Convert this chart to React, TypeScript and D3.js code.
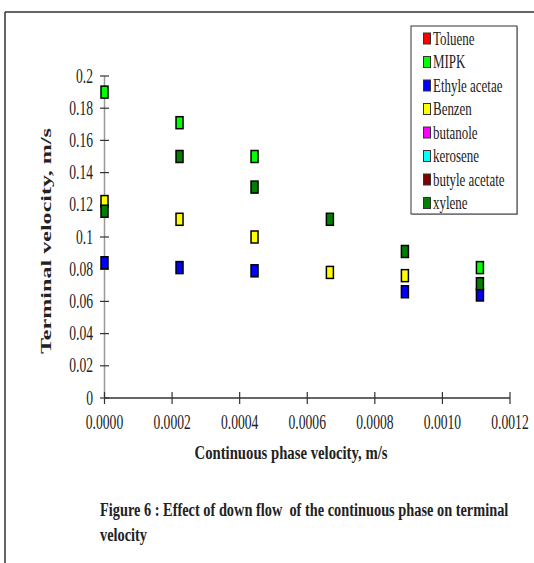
import React, { useLayoutEffect, useRef, useState } from 'react';
import * as d3 from 'd3';

const xValues = [0, 0.000222, 0.000444, 0.000667, 0.000889, 0.001111];

const seriesNames = ['Toluene', 'MIPK', 'Ethyle acetae', 'Benzen', 'butanole', 'kerosene', 'butyle acetate', 'xylene'];
const seriesColors = ['#ff0000', '#00ff00', '#0000ff', '#ffff00', '#ff00ff', '#00ffff', '#800000', '#008000'];

const toluene: (number | null)[] = [];
const mipk = [0.19, 0.171, 0.15, null, null, 0.081];
const ethyleAcetae = [0.084, 0.081, 0.079, null, 0.066, 0.064];
const benzen = [0.122, 0.111, 0.1, 0.078, 0.076, null];
const butanole: (number | null)[] = [];
const kerosene: (number | null)[] = [];
const butyleAcetate: (number | null)[] = [];
const xylene = [0.116, 0.15, 0.131, 0.111, 0.091, 0.071];

const seriesValues = [toluene, mipk, ethyleAcetae, benzen, butanole, kerosene, butyleAcetate, xylene];

const yTicks = [0, 0.02, 0.04, 0.06, 0.08, 0.1, 0.12, 0.14, 0.16, 0.18, 0.2];
const xTicks = [0, 0.0002, 0.0004, 0.0006, 0.0008, 0.001, 0.0012];

const captionLines = ['Figure 6 : Effect of down flow  of the continuous phase on terminal', 'velocity'];

const W = 534;
const H = 563;
const SX = 0.72; // the original text looks squeezed sideways
const serif = '"Liberation Serif", "Times New Roman", serif';

const x = d3.scaleLinear().domain([0, 0.0012]).range([104.5, 510]);
const y = d3.scaleLinear().domain([0, 0.2]).range([398, 76]);

const fmtY = (v: number) => String(+v.toFixed(2));
const fmtX = d3.format('.4f');

// squeezed text helper
const Sq = ({ x, y, children, anchor = 'start', size = 19, weight = 'normal', sx = SX }: any) => (
  <text
    transform={`translate(${x},${y}) scale(${sx},1)`}
    textAnchor={anchor}
    fontFamily={serif}
    fontSize={size}
    fontWeight={weight}
    fill="#222"
    style={{ whiteSpace: 'pre' }}
  >
    {children}
  </text>
);

export default function App() {
  const markW = 7;
  const markH = 12;
  const capRef = useRef<SVGTextElement>(null);
  const [capScale, setCapScale] = useState(0.7);

  useLayoutEffect(() => {
    // fit first caption line to the width seen in the picture
    if (capRef.current) {
      const len = capRef.current.getComputedTextLength();
      if (len > 0) setCapScale(408 / len);
    }
  }, []);

  return (
    <svg width={W} height={H} style={{ position: 'absolute', left: 0, top: 0, background: '#fff' }}>
      {/* outer frame */}
      <line x1={5} y1={12} x2={W} y2={12} stroke="#333" strokeWidth={1.5} />
      <line x1={5} y1={12} x2={5} y2={H} stroke="#333" strokeWidth={1.5} />

      {/* y axis */}
      <line x1={x(0)} y1={y(0.2)} x2={x(0)} y2={y(0)} stroke="#999" strokeWidth={1.5} />
      {yTicks.map((t) => (
        <g key={'yt' + t}>
          <line x1={x(0) - 4.5} x2={x(0) + 4.5} y1={y(t)} y2={y(t)} stroke="#333" strokeWidth={1.2} />
          <Sq x={93} y={y(t) + 6.5} anchor="end" size={20} sx={0.68}>{fmtY(t)}</Sq>
        </g>
      ))}

      {/* x axis */}
      <line x1={x(0)} y1={y(0)} x2={x(0.0012)} y2={y(0)} stroke="#333" strokeWidth={1.3} />
      {xTicks.map((t) => (
        <g key={'xt' + t}>
          <line x1={x(t)} x2={x(t)} y1={y(0) - 6} y2={y(0) + 6} stroke="#333" strokeWidth={1.2} />
          <Sq x={x(t)} y={428.5} anchor="middle" size={20} sx={0.68}>{fmtX(t)}</Sq>
        </g>
      ))}

      {/* axis titles */}
      <text
        x={291}
        y={459}
        textAnchor="middle"
        fontFamily={serif}
        fontSize={18}
        fontWeight="bold"
        fill="#222"
        textLength={193}
        lengthAdjust="spacingAndGlyphs"
      >
        Continuous phase velocity, m/s
      </text>
      <text
        transform="translate(51,241) rotate(-90)"
        textAnchor="middle"
        fontFamily={serif}
        fontSize={15}
        fontWeight="bold"
        fill="#222"
        textLength={226}
        lengthAdjust="spacingAndGlyphs"
      >
        Terminal  velocity, m/s
      </text>

      {/* points */}
      {seriesValues.map((vals, si) =>
        vals.map((v, i) =>
          v == null ? null : (
            <rect
              key={seriesNames[si] + i}
              x={x(xValues[i]) - markW / 2}
              y={y(v) - markH / 2}
              width={markW}
              height={markH}
              fill={seriesColors[si]}
              stroke="#000"
              strokeWidth={1.5}
            />
          )
        )
      )}

      {/* legend */}
      <rect x={412} y={27} width={106} height={188} fill="#bbb" />
      <rect x={411} y={26} width={106} height={188} fill="#fff" stroke="#333" strokeWidth={1} />
      {seriesNames.map((name, i) => {
        const cy = 38.5 + i * 23.5;
        return (
          <g key={'lg' + name}>
            <rect x={423.5} y={cy - 5.5} width={7} height={11} fill={seriesColors[i]} stroke="#333" strokeWidth={1} />
            <Sq x={433} y={cy + 6} size={18}>{name}</Sq>
          </g>
        );
      })}

      {/* caption */}
      <text
        ref={capRef}
        transform={`translate(100,516) scale(${capScale},1)`}
        fontFamily={serif}
        fontSize={19}
        fontWeight="bold"
        fill="#222"
        style={{ whiteSpace: 'pre' }}
      >
        {captionLines[0]}
      </text>
      <text
        transform={`translate(100,541) scale(${capScale},1)`}
        fontFamily={serif}
        fontSize={19}
        fontWeight="bold"
        fill="#222"
      >
        {captionLines[1]}
      </text>
    </svg>
  );
}
